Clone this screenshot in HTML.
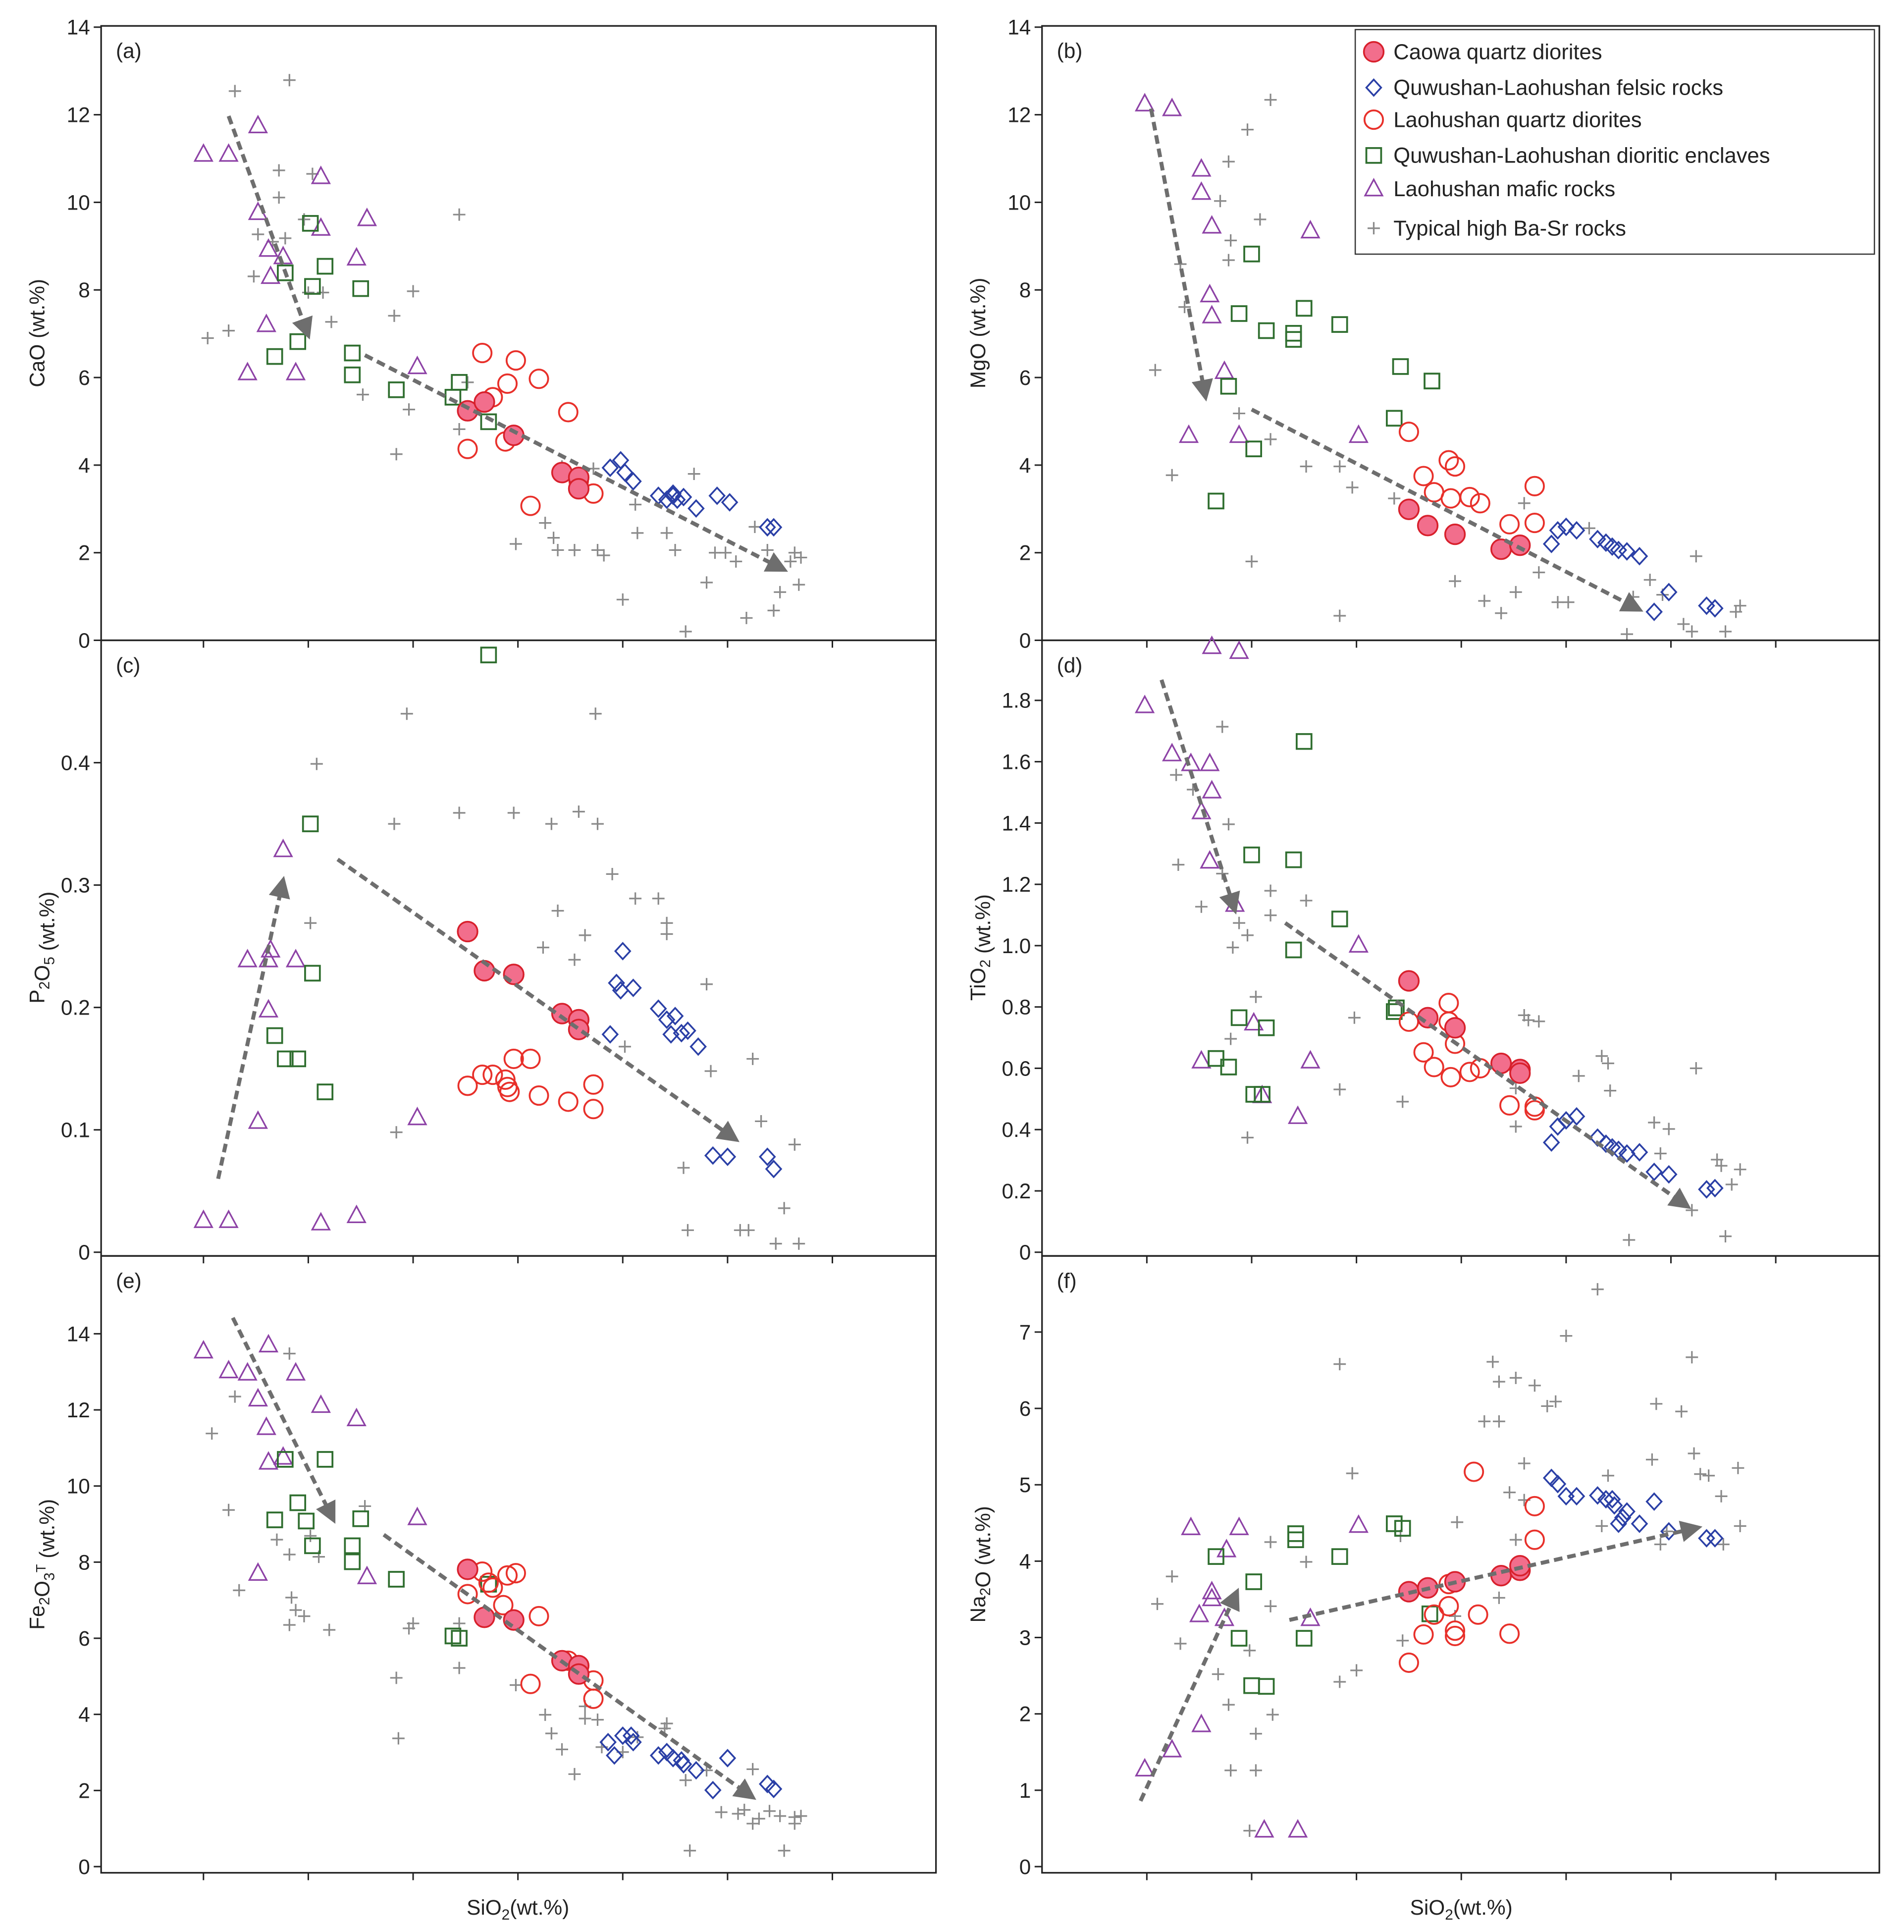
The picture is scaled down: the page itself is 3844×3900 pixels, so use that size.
<!DOCTYPE html>
<html><head><meta charset="utf-8">
<style>
html,body{margin:0;padding:0;background:#fff;}
svg{display:block;font-family:"Liberation Sans",sans-serif;}
</style></head>
<body>
<svg id="chart" xmlns="http://www.w3.org/2000/svg" width="3844" height="3900" viewBox="0 0 1544 1566" preserveAspectRatio="none">
<defs>
<marker id="ah" viewBox="0 0 10 10" refX="8" refY="5" markerWidth="5.5" markerHeight="5.5" orient="auto"><path d="M0,0 L10,5 L0,10 z" fill="#6e6e6e"/></marker>
</defs>
<rect x="0" y="0" width="1544" height="1566" fill="#fff"/>
<g id="panels"></g>
<g id="legend">
 <rect x="1099" y="24" width="421" height="182" fill="#fff" stroke="#333" stroke-width="1"/>
</g>
</svg>
<script>
// ---------------- DATA (SiO2, oxide) ----------------
const caowaA=[[57.6,5.24],[58.4,5.44],[59.8,4.68],[62.1,3.83],[62.9,3.72],[62.9,3.46]];
const lhqdA=[[58.3,6.56],[58.8,5.55],[59.5,5.86],[59.9,6.39],[61.0,5.97],[62.4,5.21],[57.6,4.37],[59.4,4.54],[60.6,3.07],[63.6,3.35],[62.9,3.63]];
const felsicA=[[64.4,3.94],[64.9,4.11],[65.1,3.83],[65.5,3.63],[66.7,3.3],[67.1,3.21],[67.4,3.3],[67.6,3.21],[67.9,3.27],[67.4,3.35],[68.5,3.01],[69.5,3.3],[70.1,3.15],[71.9,2.58],[72.2,2.58]];
const enclA=[[50.1,9.52],[50.2,8.08],[50.8,8.54],[52.5,8.03],[48.9,8.39],[49.5,6.82],[48.4,6.48],[52.1,6.56],[52.1,6.06],[54.2,5.72],[57.2,5.89],[56.9,5.55],[58.6,4.99]];
const maficA=[[45,11.1],[46.2,11.1],[47.6,11.75],[47.6,9.77],[48.1,8.93],[48.2,8.31],[48.8,8.76],[48,7.21],[47.1,6.11],[49.4,6.11],[50.6,10.59],[50.6,9.41],[52.3,8.73],[52.8,9.63],[55.2,6.25]];
const basrA=[[46.5,12.54],[49.1,12.79],[45.2,6.9],[46.2,7.07],[48.6,10.73],[48.6,10.11],[48.9,9.18],[47.6,9.27],[47.4,8.31],[48.3,9.1],[50.2,10.65],[49.8,9.61],[50,7.94],[50.7,7.94],[51.1,7.27],[52.6,5.61],[54.2,4.25],[54.1,7.41],[55,7.97],[54.8,5.27],[57.2,9.72],[57.2,4.82],[57.6,5.89],[59.9,2.2],[61.3,2.68],[61.7,2.34],[61.9,2.06],[62.7,2.06],[63.8,2.06],[64.1,1.94],[65,0.93],[65.7,2.45],[65.6,3.1],[67.1,2.45],[67.5,2.06],[68,0.2],[68.4,3.8],[69,1.32],[69.4,2.0],[69.9,2.0],[70.4,1.8],[70.9,0.51],[71.3,2.59],[71.9,2.06],[72.2,0.68],[72.5,1.1],[73,1.8],[73.2,2.0],[73.5,1.89],[73.4,1.27],[63.6,3.92],[62.1,3.97]];
const arrowsA=[[46.2,11.97,50,6.96],[52.7,6.51,72.7,1.61]];

const caowaB=[[57.5,2.99],[58.4,2.62],[59.7,2.42],[61.9,2.08],[62.8,2.17]];
const lhqdB=[[57.5,4.76],[58.2,3.75],[58.7,3.38],[59.4,4.11],[59.7,3.97],[59.5,3.24],[60.4,3.27],[60.9,3.13],[63.5,3.52],[62.3,2.65],[63.5,2.68]];
const felsicB=[[64.3,2.2],[64.6,2.51],[65,2.59],[65.5,2.51],[66.5,2.31],[66.9,2.23],[67.2,2.14],[67.5,2.06],[67.9,2.03],[68.5,1.92],[69.2,0.65],[69.9,1.1],[71.7,0.79],[72.1,0.73]];
const enclB=[[50,8.82],[49.4,7.46],[50.7,7.07],[52,6.87],[52,7.01],[52.5,7.58],[54.2,7.21],[57.1,6.25],[58.6,5.92],[56.8,5.07],[50.1,4.37],[48.9,5.8],[48.3,3.18]];
const maficB=[[44.9,12.25],[46.2,12.14],[47.6,10.76],[47.6,10.23],[48.1,9.46],[48,7.89],[48.1,7.41],[48.7,6.14],[49.4,4.68],[47,4.68],[52.8,9.35],[55.1,4.68]];
const basrB=[[50.9,12.34],[49.8,11.66],[50.4,9.61],[48.9,10.93],[45.4,6.17],[46.2,3.77],[46.6,8.59],[46.8,7.61],[48.5,10.03],[49,9.13],[48.9,8.68],[49.4,5.18],[50.9,4.59],[50,1.8],[52.6,3.97],[54.2,3.97],[54.8,3.49],[54.2,0.56],[56.8,3.24],[57.5,3.07],[59.7,1.35],[61.1,0.9],[61.9,0.62],[62.6,1.1],[63,3.13],[63.7,1.55],[64.6,0.87],[65.1,0.87],[66.1,2.56],[69,1.38],[69.6,1.04],[67.9,0.14],[70.6,0.37],[71.2,1.92],[71,0.2],[72.6,0.2],[73.1,0.65],[73.3,0.79],[68.2,0.99]];
const arrowsB=[[45.2,12.14,47.8,5.55],[50,5.27,68.5,0.7]];

const caowaC=[[57.6,0.262],[58.4,0.23],[59.8,0.227],[62.1,0.195],[62.9,0.19],[62.9,0.182]];
const lhqdC=[[57.6,0.136],[58.3,0.145],[58.8,0.145],[59.4,0.141],[59.5,0.135],[59.6,0.131],[59.8,0.158],[60.6,0.158],[61,0.128],[62.4,0.123],[63.6,0.137],[63.6,0.117]];
const felsicC=[[65,0.246],[64.7,0.22],[64.9,0.214],[65.5,0.216],[64.4,0.178],[66.7,0.199],[67.1,0.19],[67.3,0.178],[67.5,0.193],[67.8,0.179],[68.1,0.181],[68.6,0.168],[69.3,0.079],[70,0.078],[71.9,0.078],[72.2,0.068]];
const enclC=[[50.1,0.35],[50.2,0.228],[48.4,0.177],[48.9,0.158],[49.5,0.158],[50.8,0.131],[58.6,0.488]];
const maficC=[[48.8,0.329],[47.1,0.239],[48.1,0.239],[48.2,0.247],[49.4,0.239],[48.1,0.198],[47.6,0.107],[45,0.026],[46.2,0.026],[50.6,0.024],[52.3,0.03],[55.2,0.11]];
const basrC=[[50.4,0.399],[50.1,0.269],[54.7,0.44],[54.1,0.35],[57.2,0.359],[59.8,0.359],[61.6,0.35],[62.9,0.36],[63.7,0.44],[63.8,0.35],[61.9,0.279],[61.2,0.249],[62.7,0.239],[63.2,0.259],[64.5,0.309],[65.6,0.289],[66.7,0.289],[67.1,0.269],[67.1,0.26],[69,0.219],[69.2,0.148],[67.9,0.069],[68.1,0.018],[71.2,0.158],[70.6,0.018],[71,0.018],[71.6,0.107],[72.7,0.036],[73.2,0.088],[72.3,0.007],[73.4,0.007],[54.2,0.098],[65.1,0.168]];
const arrowsC=[[45.7,0.06,48.8,0.304],[51.4,0.321,70.4,0.092]];

const caowaD=[[57.5,0.885],[58.4,0.765],[59.7,0.732],[61.9,0.616],[62.8,0.596],[62.8,0.584]];
const lhqdD=[[57.5,0.752],[58.2,0.652],[58.7,0.604],[59.4,0.813],[59.7,0.68],[59.5,0.571],[60.4,0.588],[60.9,0.6],[62.3,0.479],[63.5,0.475],[63.5,0.463],[59.4,0.752]];
const felsicD=[[64.3,0.358],[64.6,0.41],[65,0.43],[65.5,0.443],[66.5,0.374],[66.9,0.354],[67.2,0.342],[67.5,0.334],[67.9,0.322],[68.5,0.326],[69.2,0.262],[69.9,0.254],[71.7,0.205],[72.1,0.209]];
const enclD=[[52.5,1.666],[50,1.296],[52,1.28],[54.2,1.087],[52,0.986],[56.9,0.797],[56.8,0.785],[49.4,0.765],[48.3,0.632],[48.9,0.604],[50.7,0.732],[50.1,0.515],[50.5,0.515]];
const maficD=[[44.9,1.783],[46.2,1.626],[47.1,1.594],[48,1.594],[48.1,1.505],[47.6,1.437],[48,1.276],[49.2,1.135],[50.1,0.748],[47.6,0.624],[50.5,0.511],[52.8,0.624],[52.2,0.443],[55.1,1.002],[48.1,1.976],[49.4,1.96]];
const basrD=[[48.6,1.714],[46.4,1.557],[47.2,1.509],[46.5,1.264],[47.6,1.127],[48.9,1.396],[48.6,1.235],[49.4,1.074],[49.1,0.994],[49.8,1.034],[50.9,1.179],[50.9,1.099],[52.6,1.147],[49.8,0.374],[49,0.696],[50.2,0.833],[54.2,0.531],[54.9,0.765],[57.2,0.491],[58.5,0.773],[61.8,0.6],[62.6,0.535],[62.6,0.41],[63,0.773],[63.2,0.757],[63.7,0.753],[65.6,0.575],[66.7,0.64],[67,0.616],[67.1,0.527],[68,0.04],[69.2,0.423],[69.9,0.402],[71.2,0.6],[72.2,0.302],[72.4,0.282],[72.6,0.052],[72.9,0.221],[73.3,0.27],[71,0.137],[69.5,0.322]];
const arrowsD=[[45.7,1.867,49.2,1.115],[51.6,1.074,70.8,0.149]];

const caowaE=[[57.6,7.81],[58.4,6.55],[59.8,6.48],[62.1,5.41],[62.9,5.28],[62.9,5.06]];
const lhqdE=[[57.6,7.16],[58.3,7.75],[58.8,7.33],[59.5,7.65],[59.9,7.71],[61,6.58],[62.4,5.41],[63.6,4.89],[63.6,4.41],[60.6,4.8],[59.3,6.87],[58.6,7.46]];
const felsicE=[[64.3,3.27],[64.6,2.92],[65,3.44],[65.4,3.44],[65.5,3.27],[66.7,2.92],[67.1,3.01],[67.4,2.85],[67.8,2.79],[67.9,2.69],[68.5,2.53],[69.3,2.01],[70,2.85],[71.9,2.17],[72.2,2.04]];
const enclE=[[48.9,10.7],[50.8,10.7],[49.5,9.56],[48.4,9.11],[49.9,9.08],[50.2,8.43],[52.1,8.43],[52.1,8.01],[52.5,9.14],[54.2,7.55],[56.9,6.06],[57.2,6.0],[58.6,7.42]];
const maficE=[[45,13.55],[46.2,13.03],[47.1,12.97],[48.1,13.71],[47.6,12.29],[48,11.54],[49.4,12.97],[48.1,10.63],[48.8,10.76],[50.6,12.12],[52.3,11.77],[52.8,7.62],[55.2,9.17],[47.6,7.71]];
const basrE=[[45.4,11.38],[46.5,12.35],[46.2,9.37],[46.7,7.26],[48.5,8.59],[49.1,13.48],[49.1,8.2],[49.2,7.07],[49.1,6.35],[49.4,6.74],[49.8,6.58],[50.1,8.69],[50.5,8.14],[51,6.22],[52.7,9.47],[54.2,4.96],[54.3,3.37],[54.8,6.26],[55,6.39],[57.2,5.22],[57.2,6.39],[59.9,4.77],[61.3,3.99],[61.6,3.5],[62.1,3.08],[62.7,2.43],[63.2,4.21],[63.2,3.89],[63.8,3.86],[64,3.14],[65,3.01],[65.7,3.4],[67.1,3.76],[68,2.27],[68.2,0.42],[69,2.53],[69.7,1.43],[70.5,1.39],[70.8,1.49],[71.2,2.56],[71.2,1.13],[71.5,1.26],[72,1.46],[72.5,1.33],[72.7,0.42],[73.2,1.3],[73.2,1.13],[73.5,1.33],[67,3.63]];
const arrowsE=[[46.4,14.42,51.2,9.11],[53.6,8.72,71.2,1.82]];

const caowaF=[[57.5,3.6],[58.4,3.65],[59.7,3.73],[61.9,3.81],[62.8,3.88],[62.8,3.94]];
const lhqdF=[[60.6,5.17],[63.5,4.72],[63.5,4.28],[58.7,3.3],[59.4,3.41],[59.7,3.09],[60.8,3.3],[59.4,3.7],[62.3,3.05],[57.5,2.67],[58.2,3.04],[59.7,3.02]];
const felsicF=[[64.3,5.09],[64.6,5.01],[65,4.85],[65.5,4.85],[66.5,4.86],[66.9,4.81],[67.2,4.81],[67.5,4.49],[67.9,4.65],[68.5,4.49],[69.2,4.78],[69.9,4.39],[71.7,4.3],[72.1,4.3],[67.3,4.73],[67.7,4.57]];
const enclF=[[52.1,4.36],[52.1,4.28],[54.2,4.06],[56.8,4.49],[57.2,4.43],[50.1,3.73],[49.4,2.99],[50,2.37],[50.7,2.36],[52.5,2.99],[58.5,3.31],[48.3,4.06]];
const maficF=[[47.1,4.44],[49.4,4.44],[48.8,4.15],[48.1,3.6],[47.5,3.3],[48.1,3.51],[48.7,3.25],[52.8,3.25],[55.1,4.47],[47.6,1.86],[46.2,1.53],[44.9,1.28],[50.6,0.48],[52.2,0.48]];
const basrF=[[66.5,7.56],[65,6.95],[61.5,6.61],[54.2,6.58],[61.8,6.35],[62.6,6.4],[63.5,6.3],[64.5,6.09],[64.1,6.03],[61.1,5.83],[61.8,5.83],[69.3,6.06],[70.5,5.96],[71,6.67],[71.1,5.41],[69.1,5.33],[67,5.12],[71.4,5.14],[71.8,5.12],[73.2,5.22],[72.4,4.85],[73.3,4.46],[72.5,4.22],[69.5,4.22],[69.8,4.39],[63,5.28],[63,4.8],[59.8,4.51],[54.8,5.15],[50.9,4.25],[52.6,3.99],[45.5,3.44],[46.2,3.8],[46.6,2.92],[48.4,2.52],[48.9,2.12],[49.9,2.83],[50.9,3.41],[51,1.99],[50.2,1.74],[49,1.26],[50.2,1.26],[49.9,0.47],[54.2,2.42],[55,2.57],[57.2,2.96],[62.3,4.9],[62.6,4.28],[59.7,3.28],[57.1,4.33],[61.8,3.52],[66.7,4.46]];
const arrowsF=[[44.7,0.86,49.3,3.6],[51.8,3.23,71.3,4.44]];

const xTicks=[45,50,55,60,65,70,75];
const ticksCaO=[0,2,4,6,8,10,12,14];
const ticksP=[0,0.1,0.2,0.3,0.4];
const ticksTi=[0,0.2,0.4,0.6,0.8,1.0,1.2,1.4,1.6,1.8];
const ticksFe=[0,2,4,6,8,10,12,14];
const ticksNa=[0,1,2,3,4,5,6,7];

// ---------------- LAYOUT ----------------
const NS="http://www.w3.org/2000/svg";
const root=document.getElementById('panels');
function el(tag,attrs,parent){const e=document.createElementNS(NS,tag);for(const k in attrs)e.setAttribute(k,attrs[k]);(parent||root).appendChild(e);return e;}

const panels=[
 {id:'a',x0:82,x1:759,y0:21,y1:519,x45:165,zero:519,ppu:35.5,ticks:ticksCaO,dec:0,label:'CaO (wt.%)',ly:270,
  s:[caowaA,lhqdA,felsicA,enclA,maficA,basrA],arrows:arrowsA},
 {id:'b',x0:845,x1:1524,y0:21,y1:519,x45:930,zero:519,ppu:35.5,ticks:ticksCaO,dec:0,label:'MgO (wt.%)',ly:270,
  s:[caowaB,lhqdB,felsicB,enclB,maficB,basrB],arrows:arrowsB},
 {id:'c',x0:82,x1:759,y0:519,y1:1018,x45:165,zero:1015,ppu:992,ticks:ticksP,dec:1,label:'P2O5',ly:768,
  s:[caowaC,lhqdC,felsicC,enclC,maficC,basrC],arrows:arrowsC},
 {id:'d',x0:845,x1:1524,y0:519,y1:1018,x45:930,zero:1015,ppu:248.5,ticks:ticksTi,dec:1,label:'TiO2',ly:768,
  s:[caowaD,lhqdD,felsicD,enclD,maficD,basrD],arrows:arrowsD},
 {id:'e',x0:82,x1:759,y0:1018,y1:1518,x45:165,zero:1513,ppu:30.85,ticks:ticksFe,dec:0,label:'Fe2O3',ly:1268,
  s:[caowaE,lhqdE,felsicE,enclE,maficE,basrE],arrows:arrowsE},
 {id:'f',x0:845,x1:1524,y0:1018,y1:1518,x45:930,zero:1513,ppu:61.9,ticks:ticksNa,dec:0,label:'Na2O',ly:1268,
  s:[caowaF,lhqdF,felsicF,enclF,maficF,basrF],arrows:arrowsF}
];
const seriesNames=['caowa-quartz-diorites','laohushan-quartz-diorites','felsic-rocks','dioritic-enclaves','mafic-rocks','high-ba-sr-rocks'];
const drawOrder=[5,4,3,2,1,0];

function drawMarker(type,cx,cy,parent){
 let m;
 if(type===0){m=el('circle',{cx:cx,cy:cy,r:8,fill:'#f26e8c',stroke:'#d8202c','stroke-width':1.4},parent);}
 else if(type===1){m=el('circle',{cx:cx,cy:cy,r:7.5,fill:'none',stroke:'#e8302a','stroke-width':1.5},parent);}
 else if(type===2){m=el('path',{d:`M${cx},${cy-6.5}L${cx+6},${cy}L${cx},${cy+6.5}L${cx-6},${cy}Z`,fill:'none',stroke:'#2a3fa6','stroke-width':1.4},parent);}
 else if(type===3){m=el('rect',{x:cx-6,y:cy-6,width:12,height:12,fill:'none',stroke:'#2f6e2f','stroke-width':1.5},parent);}
 else if(type===4){m=el('path',{d:`M${cx},${cy-7.5}L${cx+7},${cy+5.5}L${cx-7},${cy+5.5}Z`,fill:'none',stroke:'#8d42a6','stroke-width':1.3},parent);}
 else {m=el('path',{d:`M${cx-5},${cy}H${cx+5}M${cx},${cy-5}V${cy+5}`,fill:'none',stroke:'#8a8a8a','stroke-width':1.3},parent);}
 return m;
}

panels.forEach(p=>{
 const g=el('g',{});
 
 
 const X=s=>p.x45+(s-45)*17;
 const Y=v=>p.zero-v*p.ppu;
 const frame=el('rect',{x:p.x0,y:p.y0,width:p.x1-p.x0,height:p.y1-p.y0,fill:'none',stroke:'#222','stroke-width':1.3},g);
 
 
 xTicks.forEach(t=>{
  const tk=el('line',{x1:X(t),x2:X(t),y1:p.y1,y2:p.y1+6,stroke:'#222','stroke-width':1.2},g);
  
  
 });
 p.ticks.forEach(t=>{
  const y=Y(t);
  const tk=el('line',{x1:p.x0-6,x2:p.x0,y1:y,y2:y,stroke:'#222','stroke-width':1.2},g);
  
  
  const tl=el('text',{x:p.x0-9,y:y+6,'text-anchor':'end','font-size':17,fill:'#222'},g);
  tl.textContent=(t===0)?'0':t.toFixed(p.dec);
  
  
 });
 const pl=el('text',{x:p.x0+12,y:p.y0+26,'font-size':17,fill:'#222'},g);
 pl.textContent='('+p.id+')';
 
 
 const lx=p.x0-46;
 const yl=el('text',{x:lx,y:p.ly,'text-anchor':'middle','font-size':17,fill:'#222',transform:`rotate(-90 ${lx} ${p.ly})`},g);
 
 
 const sub=(txt)=>{const t=el('tspan',{'font-size':12,dy:4},yl);t.textContent=txt;const b=el('tspan',{'font-size':17,dy:-4},yl);return b;};
 if(p.label==='P2O5'){yl.appendChild(document.createTextNode('P'));sub('2');yl.appendChild(document.createTextNode('O'));sub('5');yl.appendChild(document.createTextNode(' (wt.%)'));}
 else if(p.label==='TiO2'){yl.appendChild(document.createTextNode('TiO'));sub('2');yl.appendChild(document.createTextNode(' (wt.%)'));}
 else if(p.label==='Na2O'){yl.appendChild(document.createTextNode('Na'));sub('2');yl.appendChild(document.createTextNode('O (wt.%)'));}
 else if(p.label==='Fe2O3'){yl.appendChild(document.createTextNode('Fe'));sub('2');yl.appendChild(document.createTextNode('O'));sub('3');const s=el('tspan',{'font-size':11,dy:-7},yl);s.textContent='T';const r=el('tspan',{'font-size':17,dy:7},yl);r.textContent=' (wt.%)';}
 else yl.textContent=p.label;
 drawOrder.forEach(si=>{
  const sg=el('g',{},g);
  
  
  p.s[si].forEach(d=>{
   const m=drawMarker(si,X(d[0]),Y(d[1]),sg);
   
   
  });
 });
 p.arrows.forEach(a=>{
  const ar=el('line',{x1:X(a[0]),y1:Y(a[1]),x2:X(a[2]),y2:Y(a[3]),stroke:'#6e6e6e','stroke-width':3.2,'stroke-dasharray':'7 4','marker-end':'url(#ah)'},g);
  
  
 });
});

[[420,'left'],[1185,'right']].forEach(([x,n])=>{
 const t=el('text',{x:x,y:1552,'text-anchor':'middle','font-size':17,fill:'#222'});
 
 
 t.appendChild(document.createTextNode('SiO'));
 const s=el('tspan',{'font-size':12,dy:4},t);s.textContent='2';
 const r=el('tspan',{'font-size':17,dy:-4},t);r.textContent='(wt.%)';
});

const legendLabels=['Caowa quartz diorites','Quwushan-Laohushan felsic rocks','Laohushan quartz diorites','Quwushan-Laohushan dioritic enclaves','Laohushan mafic rocks','Typical high Ba-Sr rocks'];
const legendTypes=[0,2,1,3,4,5];
const legendYs=[42,71,97,126,153,185];
const lg=document.getElementById('legend');
legendLabels.forEach((lab,i)=>{
 const eg=el('g',{},lg);
 
 
 drawMarker(legendTypes[i],1114,legendYs[i],eg);
 const t=el('text',{x:1130,y:legendYs[i]+6,'font-size':17.5,fill:'#222'},eg);
 t.textContent=lab;
});
</script>
</body></html>
